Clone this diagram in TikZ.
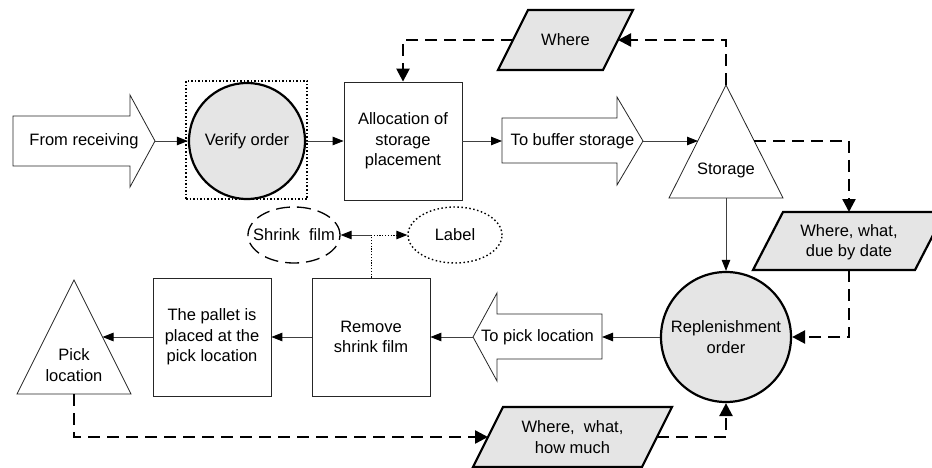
\documentclass[tikz,border=0pt]{standalone}
\usepackage{fontspec}
\setmainfont{Liberation Sans}
\usetikzlibrary{arrows.meta,shapes.geometric}
\begin{document}
\begin{tikzpicture}[x=1pt,y=-1pt,
  every node/.style={font=\fontsize{16.5}{20.5}\selectfont, align=center, inner sep=0pt},
  thinshape/.style={draw=black!85, line width=0.8pt, fill=white, line join=miter},
  thickshape/.style={draw=black, line width=2.2pt, fill=black!10, line join=miter},
  boxnode/.style={thinshape, minimum width=118pt, minimum height=118pt},
  flow/.style={draw=black!75, line width=0.9pt, -{Triangle[length=11pt,width=8.5pt,black]}},
  dflow/.style={draw=black, line width=2.4pt, dash pattern=on 12pt off 7pt, -{Triangle[length=13pt,width=13pt,black]}},
  dotline/.style={draw=black, line width=1pt, dash pattern=on 1.2pt off 1.6pt},
]
\useasboundingbox (0,0) rectangle (932,468);

% ---- top row ----
\draw[thinshape] (13,116) -- (130,116) -- (130,95) -- (155,141) -- (130,187) -- (130,166) -- (13,166) -- cycle;
\node (recv) at (84,141) {From receiving};
\coordinate (recv tip) at (155,141);

\node[draw=black, line width=1.1pt, dash pattern=on 1.5pt off 2pt, minimum width=121pt, minimum height=118pt] (vbox) at (246.5,140) {};
\node[circle, thickshape, minimum size=116pt] (verify) at (247,141) {Verify order};

\node[boxnode] (alloc) at (403,141) {Allocation of\\storage\\placement};

\draw[thinshape] (502,118) -- (617,118) -- (617,97) -- (643,141) -- (617,185) -- (617,163) -- (502,163) -- cycle;
\node (buffer) at (572.5,141) {To buffer storage};
\coordinate (buffer tail) at (502,141);
\coordinate (buffer tip) at (643,141);

\draw[thinshape] (726,85) -- (783,198) -- (669,198) -- cycle;
\node (storage) at (726,170) {Storage};
\coordinate (storage apex) at (726,85);
\coordinate (storage left) at (698,141);
\coordinate (storage right) at (754,141);
\coordinate (storage base) at (726,198);

\draw[thickshape] (528,10) -- (633,10) -- (603,70) -- (498,70) -- cycle;
\node (where) at (565.5,40) {Where};
\coordinate (where left) at (513,40);
\coordinate (where right) at (618,40);

\draw[thickshape] (783,212) -- (945,212) -- (915,270) -- (753,270) -- cycle;
\node (due) at (849,242) {Where, what,\\due by date};
\coordinate (due top) at (849,212);
\coordinate (due bottom) at (849,270);

% ---- bottom row ----
\node[circle, thickshape, minimum size=130pt] (repl) at (726,337) {Replenishment\\order};

\draw[thinshape] (602,314) -- (497,314) -- (497,293) -- (473,337) -- (497,381) -- (497,359) -- (602,359) -- cycle;
\node (topick) at (537.5,337) {To pick location};
\coordinate (topick tail) at (602,337);
\coordinate (topick tip) at (473,337);

\node[boxnode] (remove) at (371,337) {Remove\\shrink film};
\node[boxnode] (pallet) at (212,337) {The pallet is\\placed at the\\pick location};

\draw[thinshape] (74,280) -- (131,394) -- (17,394) -- cycle;
\node (pick) at (74,365) {Pick\\location};
\coordinate (pick right) at (102.5,337);
\coordinate (pick base) at (74,394);

\draw[thickshape] (503,407) -- (672,407) -- (642,467) -- (473,467) -- cycle;
\node (much) at (572.5,437) {Where,\ \ what,\\how much};
\coordinate (much left) at (488,437);
\coordinate (much right) at (657,437);

\node[ellipse, draw=black, line width=1.3pt, dash pattern=on 14pt off 7pt, inner xsep=-8.5pt, minimum height=56pt, minimum width=92pt] (shrink) at (294,235) {Shrink\ \ film};
\node[ellipse, draw=black, line width=1.4pt, dash pattern=on 1.5pt off 2.5pt, minimum width=94pt, minimum height=56pt] (label) at (455,235) {Label};
\coordinate (junc) at (remove.north |- shrink.east);

% ---- connectors ----
\draw[flow] (recv tip) -- (verify.west);
\draw[flow] (verify.east) -- (alloc.west);
\draw[flow] (alloc.east) -- (buffer tail);
\draw[flow] (buffer tip) -- (storage left);
\draw[flow] (storage base) -- (repl.north);
\draw[flow] (repl.west) -- (topick tail);
\draw[flow] (topick tip) -- (remove.east);
\draw[flow] (remove.west) -- (pallet.east);
\draw[flow] (pallet.west) -- (pick right);

\draw[dotline] (remove.north) -- (junc);
\draw[flow] (junc) -- (shrink.east);
\draw[flow, dotline] (junc) -- (label.west);

\draw[dflow] (storage apex) |- (where right);
\draw[dflow] (where left) -| (alloc.north);
\draw[dflow] (storage right) -| (due top);
\draw[dflow] (due bottom) |- (repl.east);
\draw[dflow] (pick base) |- (much left);
\draw[dflow] (much right) -| (repl.south);
\end{tikzpicture}
\end{document}
